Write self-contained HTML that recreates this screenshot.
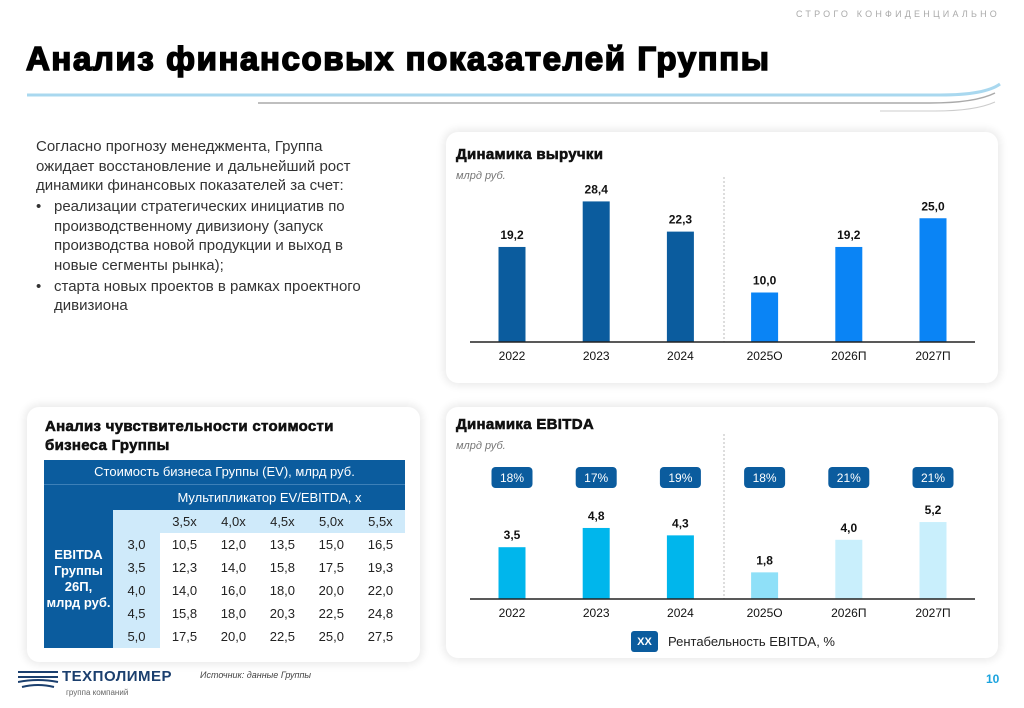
<!DOCTYPE html>
<html><head><meta charset="utf-8">
<style>
*{margin:0;padding:0;box-sizing:border-box}
body{width:1024px;height:708px;background:#fff;position:relative;overflow:hidden;font-family:"Liberation Sans","Noto Sans CJK SC",sans-serif;color:#222}
.abs{position:absolute}
.card{position:absolute;background:#fff;border-radius:12px;box-shadow:0 0 8px 3px rgba(0,0,0,0.08)}
.ctitle{position:absolute;font-weight:bold;font-size:15px;color:#111;letter-spacing:0.3px;-webkit-text-stroke:0.6px #111}
.unit{position:absolute;font-style:italic;font-size:11px;color:#777}
.txt{position:absolute;left:36px;top:137px;width:340px;font-size:15px;line-height:19.5px;color:#333}
.txt p{margin:0}
.txt li{list-style:none;position:relative;padding-left:18px;margin-top:1.5px}
.txt li:before{content:"•";position:absolute;left:0}
table{border-collapse:collapse;position:absolute;left:44px;top:460px;width:361px;font-size:13px}
td{height:23px;text-align:center;padding:0}
</style></head><body>
<div class="abs" style="right:24px;top:9px;font-size:9px;letter-spacing:3.2px;color:#aaa">СТРОГО КОНФИДЕНЦИАЛЬНО</div>
<div class="abs" style="left:26px;top:40px;font-size:33px;font-weight:bold;color:#000;-webkit-text-stroke:1.6px #000;letter-spacing:1.6px">Анализ финансовых показателей Группы</div>
<svg class="abs" style="left:0;top:80px" width="1024" height="50">
<path d="M27 15 L940 15 Q985 15 1000 4" stroke="#a9d8ef" stroke-width="3" fill="none"/>
<path d="M258 23 L930 23 Q975 23 995 13" stroke="#aaa" stroke-width="1.5" fill="none"/>
<path d="M880 31 L935 31 Q975 31 995 22" stroke="#ccc" stroke-width="1" fill="none"/>
</svg>
<div class="txt">
<p>Согласно прогнозу менеджмента, Группа ожидает восстановление и дальнейший рост динамики финансовых показателей за счет:</p>
<ul><li>реализации стратегических инициатив по производственному дивизиону (запуск производства новой продукции и выход в новые сегменты рынка);</li>
<li>старта новых проектов в рамках проектного дивизиона</li></ul>
</div>

<div class="card" style="left:446px;top:132px;width:552px;height:251px"></div>
<div class="ctitle" style="left:456px;top:146px">Динамика выручки</div>
<div class="unit" style="left:456px;top:170px">млрд руб.</div>
<svg id="rev" class="abs" style="left:0;top:0" width="1024" height="708"></svg>

<div class="card" style="left:446px;top:407px;width:552px;height:251px"></div>
<div class="ctitle" style="left:456px;top:416px">Динамика EBITDA</div>
<div class="unit" style="left:456px;top:440px">млрд руб.</div>
<svg id="eb" class="abs" style="left:0;top:0" width="1024" height="708"></svg>
<div class="abs" style="left:631px;top:631px;font-size:13px;color:#222;display:flex;align-items:center">
<span style="background:#0b5c9e;color:#fff;font-weight:bold;font-size:11px;width:27px;height:21px;border-radius:3px;display:inline-flex;align-items:center;justify-content:center;margin-right:10px">XX</span>Рентабельность EBITDA, %</div>

<div class="card" style="left:27px;top:407px;width:393px;height:255px"></div>
<div class="ctitle" style="left:45px;top:417px;line-height:19px">Анализ чувствительности стоимости<br>бизнеса Группы</div>
<table>
<tr><td colspan="7" style="background:#0b5c9e;color:#fff;height:24px">Стоимость бизнеса Группы (EV), млрд руб.</td></tr>
<tr><td colspan="7" style="background:#0b5c9e;color:#fff;height:26px;padding-left:90px;border-top:1px solid #3d80b8">Мультипликатор EV/EBITDA, x</td></tr>
<tr><td rowspan="6" style="background:#0b5c9e;color:#fff;font-weight:bold;width:69px;line-height:16px">EBITDA<br>Группы<br>26П,<br>млрд руб.</td><td style="background:#cfeafa;width:47px"></td><td style="background:#cfeafa">3,5x</td><td style="background:#cfeafa">4,0x</td><td style="background:#cfeafa">4,5x</td><td style="background:#cfeafa">5,0x</td><td style="background:#cfeafa">5,5x</td></tr>
<tr><td style="background:#cfeafa">3,0</td><td>10,5</td><td>12,0</td><td>13,5</td><td>15,0</td><td>16,5</td></tr>
<tr><td style="background:#cfeafa">3,5</td><td>12,3</td><td>14,0</td><td>15,8</td><td>17,5</td><td>19,3</td></tr>
<tr><td style="background:#cfeafa">4,0</td><td>14,0</td><td>16,0</td><td>18,0</td><td>20,0</td><td>22,0</td></tr>
<tr><td style="background:#cfeafa">4,5</td><td>15,8</td><td>18,0</td><td>20,3</td><td>22,5</td><td>24,8</td></tr>
<tr><td style="background:#cfeafa">5,0</td><td>17,5</td><td>20,0</td><td>22,5</td><td>25,0</td><td>27,5</td></tr>
</table>

<svg class="abs" style="left:18px;top:668px" width="42" height="22">
<path d="M0 4 L40 4 M0 9 L40 9 M0 14 Q20 10 40 14 M4 19 Q20 15 36 19" stroke="#1b3f6e" stroke-width="2" fill="none"/></svg>
<div class="abs" style="left:62px;top:668px;font-size:15px;font-weight:bold;color:#1b3f6e;letter-spacing:0.5px">ТЕХПОЛИМЕР</div>
<div class="abs" style="left:66px;top:688px;font-size:8px;color:#666">группа компаний</div>
<div class="abs" style="left:200px;top:670px;font-size:9px;font-style:italic;color:#444">Источник: данные Группы</div>
<div class="abs" style="left:986px;top:672px;font-size:12px;font-weight:bold;color:#1aa3de">10</div>

<script>
const years = ["2022","2023","2024","2025О","2026П","2027П"];
const revenue = [19.2, 28.4, 22.3, 10.0, 19.2, 25.0];
const ebitda = [3.5, 4.8, 4.3, 1.8, 4.0, 5.2];
const margin = ["18%","17%","19%","18%","21%","21%"];
const revColors = ["#0b5c9e","#0b5c9e","#0b5c9e","#0a84f5","#0a84f5","#0a84f5"];
const ebColors = ["#00b6ec","#00b6ec","#00b6ec","#8fe0f8","#c9effc","#c9effc"];
const NS="http://www.w3.org/2000/svg";
function xPos(i){return 512+i*84.2;}
function mk(svg,tag,attrs,txt){const e=document.createElementNS(NS,tag);for(const k in attrs)e.setAttribute(k,attrs[k]);if(txt!==undefined)e.textContent=txt;svg.appendChild(e);return e;}
function fmt(v){return v.toFixed(1).replace(".",",");}
function draw(id,vals,colors,base,scale,pills){
  const svg=document.getElementById(id);
  mk(svg,"line",{x1:724,x2:724,y1:base-165,y2:base,stroke:"#bbb","stroke-dasharray":"2,2"});
  vals.forEach((v,i)=>{
    const h=v*scale,x=xPos(i);
    const r=mk(svg,"rect",{x:x-13.5,y:base-h,width:27,height:h,fill:colors[i]});
    
    
    const t=mk(svg,"text",{x:x,y:base-h-8,"text-anchor":"middle","font-size":"12","font-weight":"bold",fill:"#111"},fmt(v));
    
    
    const l=mk(svg,"text",{x:x,y:base+18,"text-anchor":"middle","font-size":"12",fill:"#111"},years[i]);
    
    
    if(pills){
      const p=mk(svg,"rect",{x:x-20.5,y:467,width:41,height:21,rx:4,fill:"#0b5c9e"});
      
      
      mk(svg,"text",{x:x,y:482,"text-anchor":"middle","font-size":"12",fill:"#fff"},pills[i]);
    }
  });
  mk(svg,"line",{x1:470,x2:975,y1:base,y2:base,stroke:"#222","stroke-width":1.5});
}
draw("rev",revenue,revColors,342,4.95,null);
draw("eb",ebitda,ebColors,599,14.8,margin);
</script>
</body></html>
